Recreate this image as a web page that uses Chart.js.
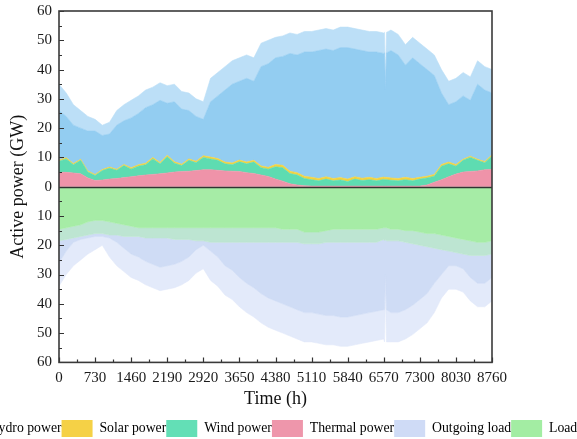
<!DOCTYPE html>
<html>
<head>
<meta charset="utf-8">
<script src="https://cdn.jsdelivr.net/npm/chart.js@4.4.0/dist/chart.umd.min.js"></script>
<style>
  html, body { margin: 0; padding: 0; background: #fff; overflow: hidden; width: 577px; height: 439px; }
  #wrap { position: absolute; left: -61px; top: 0; width: 650px; height: 450px; }
</style>
</head>
<body>
<div id="wrap"><canvas id="c" width="650" height="450"></canvas></div>
<script>
const hours = [0,146,292,438,584,730,876,1022,1168,1314,1460,1606,1752,1898,2044,2190,2336,2482,2628,2774,
  2920,3066,3212,3358,3504,3650,3796,3942,4088,4234,4380,4526,4672,4818,4964,5110,5256,5402,5548,5694,
  5840,5986,6132,6278,6424,6570,6585,6605,6625,6716,6862,7008,7154,7300,7446,7592,7738,7884,8030,8176,
  8322,8468,8614,8760];

const thermal = [4.9,4.9,4.7,4.4,3.0,2.1,2.3,2.6,2.8,3.1, 3.4,3.7,4.0,4.2,4.4,4.7,5.0,5.2,5.3,5.5,
  5.8,5.8,5.6,5.4,5.3,5.2,4.8,4.5,4.0,3.5, 2.6,1.9,1.0,0.6,0.3,0.2,0.2,0.2,0.2,0.2,
  0.2,0.2,0.2,0.2,0.2,0.2, 0.2,0.2,0.2, 0.2,0.2,0.2,0.2, 0.2,0.6,1.5,2.4,3.4,4.3,5.0,5.2,5.4,5.8,5.9];

const wind = [3.8,4.6,2.8,4.6,2.0,1.7,3.2,3.7,2.8,4.1, 2.6,3.3,3.5,5.3,3.4,5.5,3.0,2.0,3.7,2.7,
  4.2,3.7,3.4,2.4,2.2,3.3,3.0,3.9,2.5,2.5, 4.2,4.6,3.5,3.4,2.5,2.2,1.8,2.4,1.8,2.1,
  1.6,2.4,1.9,2.2,1.8,2.3, 2.2,2.2,2.2, 2.0,1.8,2.2,1.8, 2.4,2.4,2.1,4.6,4.4,2.7,4.0,4.8,3.6,2.4,4.6];

const solar = [0.4,0.4,0.4,0.4,0.4,0.4,0.4,0.4,0.4,0.4, 0.5,0.5,0.5,0.5,0.5,0.5,0.5,0.5,0.5,0.5,
  0.6,0.6,0.6,0.6,0.6,0.6,0.6,0.6,0.6,0.6, 0.8,0.8,0.8,0.8,0.8,0.8,0.8,0.8,0.8,0.8,
  0.8,0.8,0.8,0.8,0.8,0.8, 0.8,0.8,0.8, 0.8,0.8,0.8,0.8, 0.6,0.6,0.6,0.6,0.6,0.6,0.4,0.4,0.4,0.4,0.4];

// hydro: daily low and daily high output
const hydroLow = [16.9,14.1,13.1,10.6,13.6,14.8,11.6,11.3,15.0,14.9, 17.0,17.5,19.0,18.0,21.2,17.8,20.5,18.8,16.5,15.3,
  12.4,18.9,21.4,24.6,26.9,26.9,28.6,27.0,33.9,35.4, 36.4,37.2,40.2,40.2,42.4,42.8,43.7,43.6,43.7,44.4,
  44.9,43.6,43.6,42.8,43.2,42.2, 42.5,30.0,42.5, 43.5,42.2,38.3,41.2, 38.8,36.4,33.8,24.4,19.6,21.4,21.6,19.1,25.6,24.4,21.1];
const hydroHigh = [25.9,22.1,20.1,16.6,18.6,18.8,15.1,15.3,20.0,20.4, 23.0,23.5,25.0,24.0,27.2,23.8,26.5,24.8,22.5,21.3,
  18.4,26.9,29.4,32.6,34.9,34.9,36.6,35.0,41.9,43.4, 43.4,44.2,47.2,47.2,49.4,49.8,50.7,50.6,50.7,51.4,
  51.9,50.6,50.6,49.8,50.2,49.2, 49.5,33.0,49.5, 50.5,49.2,45.3,48.2, 45.8,43.4,40.8,32.4,27.6,29.4,29.6,27.1,33.6,32.4,29.1];

// consumption side (plotted downward)
const loadLow = [14.5,14,13.5,13,12,11.5,11.5,12,12.5,13, 13.5,14,14,14,14,14,14,14,14,14,
  14,14,14,14,14,14,14,14,14,14, 14,14.5,14.5,14.5,15.5,15.5,15.5,15,14.5,14.5,
  14.5,14.5,14.5,14.5,14.5,14, 14,14,14, 14.5,14.5,15,15, 15.5,16,16,16.5,17,17.5,18,18.5,19,19,18.5];
const loadHigh = [18.5,18,17.5,17,16.5,16,16,16.5,16.5,17, 17,17,17.5,17.5,17.5,17.5,18,18,18,18.5,
  18.5,19,19,19,19,19,19,19,19,19, 19,19,19,19,19.5,19.5,19.5,19,19,19,
  19,19,19,19,19,18, 18.5,18,18.5, 18.5,18.5,19,19.5, 20,20.5,21,21.5,22,22.5,23,23.5,23.5,23.5,23];
const outgoingLow = [11.5,8,5.5,5,5.5,5.5,5.5,5.5,6.5,8, 9.5,10,11.5,12.5,13.5,13,12.5,11.5,10,7.5,
  6,8,10,13,14.5,17,19,20.5,22.5,24, 25,25.5,26.5,27.5,27.5,27.5,28,29,29.5,30,
  30,29.5,29,28.5,28,28, 28,16,28, 28.5,28.5,27,25.5, 23,20.5,17,13.5,10,9.5,10,12.5,14,14,12.5];
const outgoingHigh = [15.5,12,9.5,8,6.5,5.5,4,7.5,10.5,12, 14,15,16,17,18,17.5,16.5,15.5,14,11,
  9.5,13,15,18,19.5,22,24,25.5,27.5,29, 30,31,32,33,33.5,33.5,34,35,35,35.5,
  35.5,35,34.5,34,33.5,34, 34.5,18.5,34.5, 34.5,34.5,33,31, 28.5,26,22,16.5,13,12.5,13,15.5,17.5,17.5,16];

const legendNames = ['Hydro power','Solar power','Wind power','Thermal power','Outgoing load','Load'];
const yTickValues = { min: -60, max: 60, step: 10 };
const xTickValues = { min: 0, max: 8760, step: 730 };

// ---- build the stacked boundaries ----
const pts = arr => arr.map((v, i) => ({ x: hours[i], y: v }));
const add = (a, b) => a.map((v, i) => v + b[i]);
const neg = a => a.map(v => -v);
const b1 = thermal, b2 = add(b1, wind), b3 = add(b2, solar);
const b4 = add(b3, hydroLow), b5 = add(b3, hydroHigh);
const n1 = neg(loadLow), n2 = neg(loadHigh);
const n3 = neg(add(loadLow, outgoingLow)), n4 = neg(add(loadHigh, outgoingHigh));

const C = {
  hydro: '#93cdf1', hydroBand: '#bcdff7',
  solar: '#f2d343', wind: '#5edcb1', thermal: '#ef93a9',
  load: '#a6eca6', loadBand: '#bde5d2',
  out: '#cfdcf5', outBand: '#e3eafa'
};
const legendColors = ['#93cdf1','#f5d146','#63dfb6','#ee96ab','#cfdbf6','#a3eda3'];

function ds(label, data, fill, color) {
  return { label, data: pts(data), fill, backgroundColor: color, borderColor: color,
           borderWidth: 0.6, pointRadius: 0, tension: 0 };
}
const datasets = [
  ds('Thermal power', b1, 'origin', C.thermal),
  ds('Wind power', b2, '-1', C.wind),
  ds('Solar power', b3, '-1', C.solar),
  ds('Hydro power', b4, '-1', C.hydro),
  ds('Hydro power (daily peak)', b5, '-1', C.hydroBand),
  ds('Load', n1, 'origin', C.load),
  ds('Load (daily peak)', n2, '-1', C.loadBand),
  ds('Outgoing load', n3, '-1', C.out),
  ds('Outgoing load (daily peak)', n4, '-1', C.outBand)
];

const SERIF = "'Liberation Serif','Times New Roman',serif";

const framePlugin = {
  id: 'frame',
  afterDatasetsDraw(chart) {
    const { ctx, chartArea: a, scales: { x, y } } = chart;
    ctx.save();
    ctx.strokeStyle = '#333';
    ctx.lineWidth = 1.3;
    const y0 = Math.round(y.getPixelForValue(0)) + 0.5;
    ctx.beginPath(); ctx.moveTo(a.left, y0); ctx.lineTo(a.right, y0); ctx.stroke();
    ctx.lineWidth = 1.2;
    ctx.beginPath();
    for (let v = yTickValues.min; v <= yTickValues.max; v += yTickValues.step / 2) {
      const py = Math.round(y.getPixelForValue(v)) + 0.5;
      const len = (v % yTickValues.step === 0) ? 5 : 3;
      ctx.moveTo(a.left, py); ctx.lineTo(a.left + len, py);
    }
    for (let h = xTickValues.min; h <= xTickValues.max; h += xTickValues.step / 2) {
      const px = Math.round(x.getPixelForValue(h)) + 0.5;
      const len = (h % xTickValues.step === 0) ? 5 : 3;
      ctx.moveTo(px, a.bottom); ctx.lineTo(px, a.bottom - len);
    }
    ctx.stroke();
    ctx.lineWidth = 1.6;
    ctx.strokeStyle = '#3a3a3a';
    ctx.strokeRect(a.left, a.top, a.right - a.left, a.bottom - a.top);
    ctx.restore();
  }
};

new Chart(document.getElementById('c'), {
  type: 'line',
  data: { datasets },
  options: {
    responsive: false,
    animation: false,
    devicePixelRatio: 1,
    layout: { padding: { top: 11, bottom: 3, left: 0, right: 0 } },
    plugins: {
      tooltip: { enabled: false },
      legend: {
        position: 'bottom',
        align: 'center',
        labels: {
          font: { family: SERIF, size: 13.75 },
          color: '#111',
          boxWidth: 31,
          boxHeight: 17,
          padding: 0,
          generateLabels: () => legendNames.map((t, i) => ({
            text: t, fillStyle: legendColors[i], strokeStyle: 'rgba(0,0,0,0)', lineWidth: 0, hidden: false, datasetIndex: i
          }))
        }
      }
    },
    scales: {
      x: {
        type: 'linear', min: xTickValues.min, max: xTickValues.max,
        grid: { display: false, drawTicks: false }, border: { display: false },
        ticks: { stepSize: xTickValues.step, autoSkip: false, maxRotation: 0, padding: 7,
                 color: '#1a1a1a', font: { family: SERIF, size: 15 }, callback: v => String(v) },
        title: { display: true, text: 'Time (h)', color: '#111',
                 font: { family: SERIF, size: 18 }, padding: { top: -6, bottom: 10 } }
      },
      y: {
        type: 'linear', position: 'left', min: yTickValues.min, max: yTickValues.max,
        grid: { display: false, drawTicks: false }, border: { display: false },
        ticks: { stepSize: yTickValues.step, padding: 7, color: '#1a1a1a',
                 font: { family: SERIF, size: 15 }, callback: v => String(Math.abs(v)) },
        title: { display: true, text: 'Active power (GW)', color: '#111',
                 font: { family: SERIF, size: 18 }, padding: { top: 68, bottom: 0 } },
        afterFit: s => { s.width = 120; s.paddingTop = 0; s.paddingBottom = 0; }
      },
      yR: {
        type: 'linear', position: 'right', display: true,
        grid: { display: false, drawTicks: false }, border: { display: false },
        ticks: { display: false },
        afterFit: s => { s.width = 97; s.paddingTop = 0; s.paddingBottom = 0; }
      }
    }
  },
  plugins: [framePlugin]
});
</script>
</body>
</html>
